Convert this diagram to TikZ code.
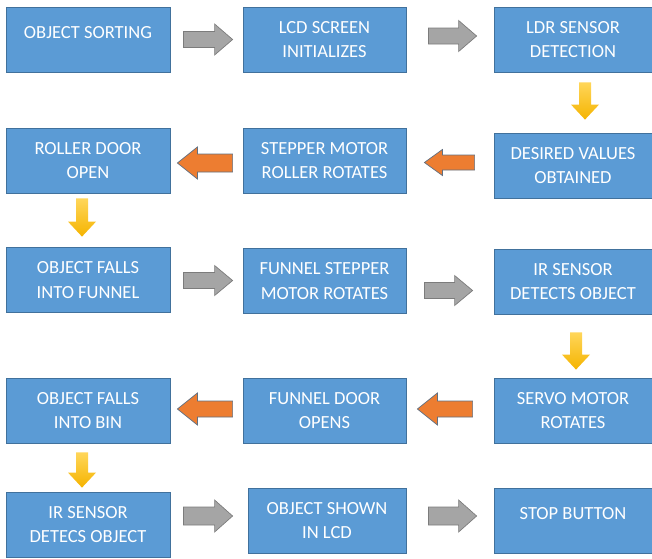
\documentclass[tikz,border=0pt]{standalone}
\usepackage{xcolor}
\usepackage{tikz}
\usetikzlibrary{calc}
\usepackage{fontspec}
\setmainfont{Carlito}

\definecolor{boxblue}{RGB}{91,155,213}
\definecolor{boxedge}{RGB}{65,113,156}
\definecolor{arrgray}{RGB}{165,165,165}
\definecolor{arrgrayedge}{RGB}{124,124,124}
\definecolor{arrorange}{RGB}{237,125,49}
\definecolor{arrorangeedge}{RGB}{96,112,130}
\definecolor{arryellowtop}{RGB}{255,214,90}
\definecolor{arryellowbot}{RGB}{245,180,0}

% block arrow: style, from, to, half shaft, half head, head length
\newcommand{\blockarrow}[6]{%
    \coordinate (ba-s) at #2;
    \coordinate (ba-e) at #3;
    \coordinate (ba-b) at ($(ba-e)!#6!(ba-s)$);
    \path[#1] ($(ba-s)!#4!90:(ba-e)$) -- ($(ba-b)!#4!90:(ba-e)$) -- ($(ba-b)!#5!90:(ba-e)$)
        -- (ba-e) -- ($(ba-b)!#5!-90:(ba-e)$) -- ($(ba-b)!#4!-90:(ba-e)$) -- ($(ba-s)!#4!-90:(ba-e)$) -- cycle;
}

\begin{document}
\begin{tikzpicture}[
    x=1pt, y=-1pt,
    box/.style={rectangle, draw=boxedge, line width=0.8pt, fill=boxblue, text=white,
        minimum width=163pt, minimum height=65pt, align=center, inner sep=0pt,
        font=\fontsize{18.5}{24.5}\selectfont},
    oneline/.style={text depth=15pt},
    garrow/.style={fill=arrgray, draw=arrgrayedge, line width=0.7pt},
    oarrow/.style={fill=arrorange, draw=arrorangeedge, line width=0.7pt},
    yarrow/.style={top color=arryellowtop, bottom color=arryellowbot}
]
    \useasboundingbox (0,0) rectangle (652,558);

    % Row 1
    \node[box, oneline, minimum width=164pt] (sort) at (88,39.5) {OBJECT SORTING};
    \node[box] (lcd) at (324.5,39.5) {LCD SCREEN\\INITIALIZES};
    \node[box, minimum width=158pt] (ldr) at (573,39.5) {LDR SENSOR\\DETECTION};

    % Row 2
    \node[box, minimum width=164pt] (roller) at (88,160.5) {ROLLER DOOR\\OPEN};
    \node[box] (stepper) at (324.5,160.5) {STEPPER MOTOR\\ROLLER ROTATES};
    \node[box, minimum width=158pt] (desired) at (573,165.5) {DESIRED VALUES\\OBTAINED};

    % Row 3
    \node[box, minimum width=164pt] (fallfun) at (88,280) {OBJECT FALLS\\INTO FUNNEL};
    \node[box] (funmotor) at (324.5,281) {FUNNEL STEPPER\\MOTOR ROTATES};
    \node[box, minimum width=158pt] (irsensor) at (573,281.5) {IR SENSOR\\DETECTS OBJECT};

    % Row 4
    \node[box, minimum width=164pt] (fallbin) at (88,410.5) {OBJECT FALLS\\INTO BIN};
    \node[box] (fundoor) at (324.5,410.5) {FUNNEL DOOR\\OPENS};
    \node[box, minimum width=158pt] (servo) at (573,410.5) {SERVO MOTOR\\ROTATES};

    % Row 5
    \node[box, minimum width=164pt] (irdetect) at (88,524.5) {IR SENSOR\\DETECS OBJECT};
    \node[box, minimum width=158pt] (shown) at (327,520.5) {OBJECT SHOWN\\IN LCD};
    \node[box, oneline, minimum width=158pt] (stop) at (573,520.5) {STOP BUTTON};

    % Arrows
    \blockarrow{garrow}{($(sort.east)+(13,0)$)}{($(lcd.west)+(-10,0)$)}{8pt}{15.5pt}{18pt}
    \blockarrow{garrow}{($(lcd.east)+(22,-3.5)$)}{($(ldr.west)+(-17,-3.5)$)}{8pt}{15.5pt}{18pt}
    \blockarrow{yarrow}{($(ldr.south)+(12,10)$)}{($(desired.north)+(12,-13)$)}{6pt}{14pt}{15pt}
    \blockarrow{oarrow}{($(desired.west)+(-19,-3)$)}{($(stepper.east)+(18,2)$)}{7.5pt}{13pt}{18pt}
    \blockarrow{oarrow}{($(stepper.west)+(-10,2.5)$)}{($(roller.east)+(7,2.5)$)}{9pt}{16pt}{20pt}
    \blockarrow{yarrow}{($(roller.south)+(-6,5)$)}{($(fallfun.north)+(-6,-10.5)$)}{6pt}{14pt}{15pt}
    \blockarrow{garrow}{($(fallfun.east)+(13,0.5)$)}{($(funmotor.west)+(-10,-0.5)$)}{8pt}{15pt}{18pt}
    \blockarrow{garrow}{($(funmotor.east)+(18,9.5)$)}{($(irsensor.west)+(-21,9)$)}{8pt}{15pt}{18pt}
    \blockarrow{yarrow}{($(irsensor.south)+(3,18)$)}{($(servo.north)+(3,-8)$)}{6pt}{14pt}{15pt}
    \blockarrow{oarrow}{($(servo.west)+(-21,-1.5)$)}{($(fundoor.east)+(11,-1.5)$)}{8pt}{16pt}{20pt}
    \blockarrow{oarrow}{($(fundoor.west)+(-10,-1.5)$)}{($(fallbin.east)+(7,-1.5)$)}{8pt}{16pt}{20pt}
    \blockarrow{yarrow}{($(fallbin.south)+(-6,9)$)}{($(irdetect.north)+(-6,-4)$)}{6pt}{14pt}{15pt}
    \blockarrow{garrow}{($(irdetect.east)+(13,-8.5)$)}{($(shown.west)+(-15,-4.5)$)}{9pt}{16pt}{18pt}
    \blockarrow{garrow}{($(shown.east)+(22,-4.5)$)}{($(stop.west)+(-17,-4.5)$)}{9pt}{16pt}{18pt}
\end{tikzpicture}
\end{document}
